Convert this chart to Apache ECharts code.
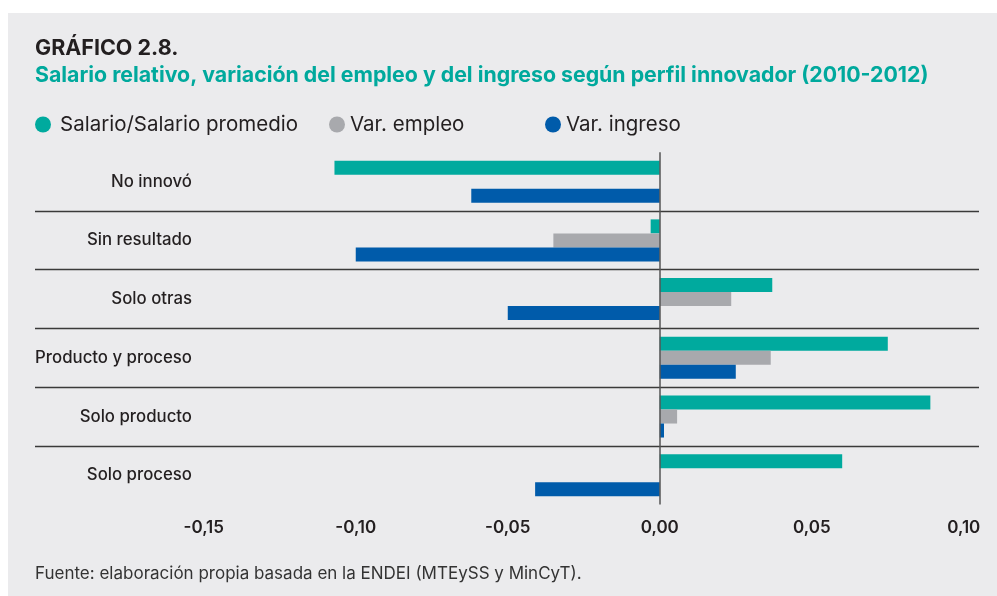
<!DOCTYPE html>
<html>
<head>
<meta charset="utf-8">
<script src="https://cdn.jsdelivr.net/npm/echarts@6/dist/echarts.min.js"></script>
<style>
  html, body { margin: 0; padding: 0; background: #ffffff; }
  #chart { width: 997px; height: 596px; }
</style>
</head>
<body>
<div id="chart"></div>
<script>
// categorías (de arriba hacia abajo)
const categorias = ['No innovó', 'Sin resultado', 'Solo otras', 'Producto y proceso', 'Solo producto', 'Solo proceso']
// valores
const salarioRelativo = [-0.107, -0.003, 0.037, 0.075, 0.089, 0.060]
const varEmpleo = [0, -0.035, 0.0235, 0.0365, 0.0057, 0]
const varIngreso = [-0.062, -0.100, -0.050, 0.025, 0.0014, -0.041]
const ticks = [-0.15, -0.10, -0.05, 0, 0.05, 0.10]

const fuente = 'Inter, "Liberation Sans", Arial, sans-serif'
const negro = '#231f20'
const verde = '#00aa9e'
const gris = '#a8a9ad'
const azul = '#005baa'

const myChart = echarts.init(document.getElementById('chart'))
myChart.setOption({
  animation: false,
  textStyle: { fontFamily: fuente },
  graphic: [
    {
      type: 'rect',
      z: -10,
      shape: { x: 8, y: 13, width: 989, height: 583 },
      style: { fill: '#ebebed' }
    }
  ],
  title: [
    {
      text: 'GRÁFICO 2.8.',
      left: 35,
      top: 38,
      padding: 0,
      textStyle: { fontSize: 21.5, fontWeight: 700, color: negro, fontFamily: fuente }
    },
    {
      text: 'Salario relativo, variación del empleo y del ingreso según perfil innovador (2010-2012)',
      left: 35,
      top: 65,
      padding: 0,
      textStyle: { fontSize: 21.3, fontWeight: 700, color: '#00a99d', fontFamily: fuente }
    },
    {
      text: 'Fuente: elaboración propia basada en la ENDEI (MTEySS y MinCyT).',
      left: 35,
      top: 565,
      padding: 0,
      textStyle: { fontSize: 17, fontWeight: 400, color: '#333333', fontFamily: fuente }
    }
  ],
  legend: [
    {
      data: ['Salario/Salario promedio'],
      left: 35,
      top: 114,
      padding: 0,
      icon: 'circle',
      itemWidth: 16,
      itemHeight: 16,
      textStyle: { fontSize: 20.5, color: negro, padding: [0, 0, 0, 4] }
    },
    {
      data: ['Var. empleo'],
      left: 329,
      top: 114,
      padding: 0,
      icon: 'circle',
      itemWidth: 16,
      itemHeight: 16,
      textStyle: { fontSize: 20.5, color: negro }
    },
    {
      data: ['Var. ingreso'],
      left: 545,
      top: 114,
      padding: 0,
      icon: 'circle',
      itemWidth: 16,
      itemHeight: 16,
      textStyle: { fontSize: 20.5, color: negro }
    }
  ],
  grid: {
    left: 35,
    right: 18,
    top: 152.3,
    height: 352.3,
    containLabel: false
  },
  xAxis: {
    type: 'value',
    min: -0.2055,
    max: 0.105,
    axisLine: { show: false },
    axisTick: { show: false },
    splitLine: { show: false },
    axisLabel: {
      customValues: ticks,
      margin: 15,
      fontSize: 17,
      fontWeight: 600,
      color: negro,
      formatter: function(value) {
        return value.toFixed(2).replace('.', ',')
      }
    }
  },
  yAxis: {
    type: 'category',
    inverse: true,
    data: categorias,
    axisLine: { show: false },
    axisTick: { show: false },
    axisLabel: {
      inside: true,
      align: 'right',
      margin: 157,
      fontSize: 16.8,
      fontWeight: 500,
      color: negro
    },
    splitLine: {
      show: true,
      showMinLine: false,
      showMaxLine: false,
      interval: 0,
      lineStyle: { color: '#3a3a3a', width: 1.3 }
    }
  },
  series: [
    {
      name: 'Salario/Salario promedio',
      type: 'bar',
      data: salarioRelativo,
      barWidth: 14,
      barGap: '0%',
      itemStyle: { color: verde },
      markLine: {
        silent: true,
        symbol: 'none',
        label: { show: false },
        lineStyle: { color: '#555555', width: 1.5, type: 'solid' },
        data: [{ xAxis: 0 }]
      }
    },
    {
      name: 'Var. empleo',
      type: 'bar',
      data: varEmpleo,
      barWidth: 14,
      barGap: '0%',
      itemStyle: { color: gris }
    },
    {
      name: 'Var. ingreso',
      type: 'bar',
      data: varIngreso,
      barWidth: 14,
      barGap: '0%',
      itemStyle: { color: azul }
    }
  ]
})
window.addEventListener('resize', function() {
  myChart.resize()
})
</script>
</body>
</html>
